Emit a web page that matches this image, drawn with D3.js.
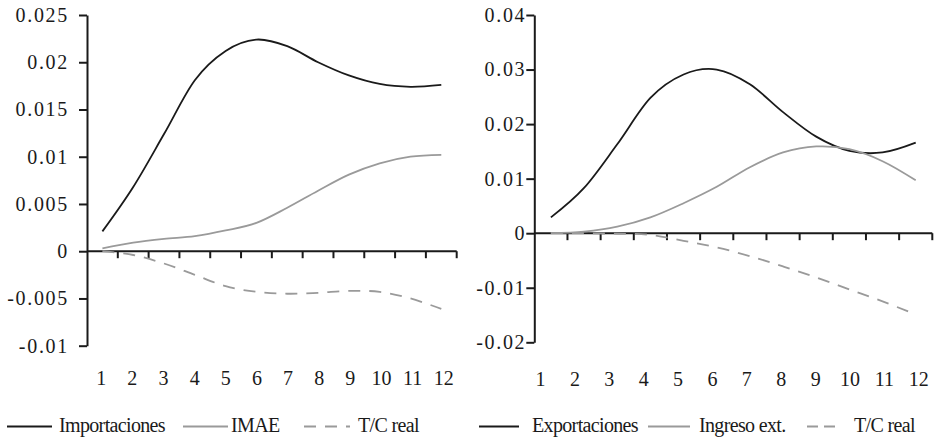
<!DOCTYPE html>
<html><head><meta charset="utf-8">
<script src="https://cdn.jsdelivr.net/npm/d3@7"></script>
<style>
html,body{margin:0;padding:0;background:#fff;}
svg{display:block;}
svg text{font-family:"Liberation Serif","Times New Roman",Times,"Tinos","DejaVu Serif","Noto Serif",serif !important;}
</style></head>
<body><svg id="c" width="934" height="440"></svg>
<script>
const periods = ["1","2","3","4","5","6","7","8","9","10","11","12"];

// Left panel
const importaciones = [0.0021,0.0068,0.0124,0.0181,0.0212,0.0224,0.0217,0.0200,0.0186,0.0177,0.0174,0.0176];
const imae          = [0.0003,0.0009,0.0013,0.0016,0.0022,0.0030,0.0046,0.0064,0.0081,0.0093,0.0100,0.0102];
const tcRealL       = [0.0000,-0.0004,-0.0013,-0.0025,-0.0037,-0.0043,-0.0045,-0.0044,-0.0042,-0.0043,-0.0050,-0.0061];
const leftTicks  = [-0.01,-0.005,0,0.005,0.01,0.015,0.02,0.025];
const leftTickLabels = ["-0.01","-0.005","0","0.005","0.01","0.015","0.02","0.025"];

// Right panel
const exportaciones = [0.0029,0.0083,0.0163,0.0248,0.0291,0.0300,0.0273,0.0222,0.0177,0.0151,0.0148,0.0166];
const ingresoExt    = [0.0000,0.0003,0.0012,0.0029,0.0055,0.0085,0.0121,0.0148,0.0159,0.0154,0.0132,0.0097];
const tcRealR       = [0.0000,0.0000,-0.0001,-0.0003,-0.0014,-0.0026,-0.0042,-0.0061,-0.0081,-0.0103,-0.0125,-0.0149];
const rightTicks = [-0.02,-0.01,0,0.01,0.02,0.03,0.04];
const rightTickLabels = ["-0.02","-0.01","0","0.01","0.02","0.03","0.04"];

const svg = d3.select("#c");
const BLACK = "#1a1a1a", GRAY = "#9a9a9a";

function panel(cfg){
  const g = svg.append("g");
  const x = d3.scaleBand().domain(periods).range([cfg.x0, cfg.x1]).padding(0);
  const y = d3.scaleLinear().domain([cfg.ticks[0], cfg.ticks[cfg.ticks.length-1]]).range([cfg.yBot, cfg.yTop]);
  const bw = x.bandwidth();
  const y0 = y(0);

  // y axis
  const ya = g.append("g").attr("transform", `translate(${cfg.x0},0)`)
    .call(d3.axisLeft(y).tickValues(cfg.ticks).tickSize(8).tickSizeOuter(0)
      .tickFormat((d,i)=>cfg.tickLabels[i]));
  ya.attr("font-family", null);
  ya.select(".domain").attr("stroke", BLACK).attr("stroke-width", 2);
  ya.selectAll(".tick line").attr("stroke", BLACK).attr("stroke-width", 2);
  ya.selectAll(".tick text").attr("x", -cfg.labelGap).attr("font-size", 20)
    .attr("fill", BLACK).attr("letter-spacing", 1.7);

  // x axis line at zero with ticks at band boundaries
  g.append("line").attr("x1", cfg.x0).attr("x2", cfg.x1).attr("y1", y0).attr("y2", y0)
    .attr("stroke", BLACK).attr("stroke-width", 2);
  g.selectAll(".xt").data(periods).enter().append("line")
    .attr("x1", d=>x(d)+bw).attr("x2", d=>x(d)+bw)
    .attr("y1", y0).attr("y2", y0+7).attr("stroke", BLACK).attr("stroke-width", 2);

  // x labels
  const xl = d3.scalePoint().domain(periods).range(cfg.labelRange);
  const xa = g.append("g").attr("transform", `translate(0,${cfg.labelY})`)
    .call(d3.axisBottom(xl).tickSize(0));
  xa.attr("font-family", null);
  xa.select(".domain").remove();
  xa.selectAll(".tick text").attr("y", 0).attr("dy", 0).attr("font-size", 20).attr("fill", BLACK);

  const line = d3.line().x((d,i)=>x(periods[i])+bw/2).y(d=>y(d)).curve(d3.curveCardinal.tension(0));
  cfg.series.forEach(s=>{
    g.append("path").attr("d", line(s.values)).attr("fill","none")
      .attr("stroke", s.color).attr("stroke-width", s.width)
      .attr("stroke-dasharray", s.dash || null);
  });

  // legend
  cfg.legend.forEach((l,i)=>{
    const s = cfg.series[i];
    g.append("line").attr("x1", l.lx0).attr("x2", l.lx1).attr("y1", 426.5).attr("y2", 426.5)
      .attr("stroke", s.color).attr("stroke-width", s.width).attr("stroke-dasharray", s.legendDash || null);
    g.append("text").attr("x", l.tx).attr("y", 432).attr("font-size", 20).attr("fill", BLACK)
      .attr("letter-spacing", -0.65).text(s.name);
  });
}

panel({
  x0: 87, x1: 456.7, yTop: 15, yBot: 345.7, ticks: leftTicks, tickLabels: leftTickLabels,
  labelGap: 18, labelRange: [100.7, 443.3], labelY: 385,
  series: [
    {name:"Importaciones", values: importaciones, color: BLACK, width: 1.8},
    {name:"IMAE", values: imae, color: GRAY, width: 1.8},
    {name:"T/C real", values: tcRealL, color: GRAY, width: 1.8, dash: "12,9", legendDash: "12,9"}
  ],
  legend: [ {lx0:7, lx1:52, tx:59}, {lx0:183, lx1:228, tx:231}, {lx0:304, lx1:350, tx:358} ]
});

panel({
  x0: 534.3, x1: 932.3, yTop: 15, yBot: 342.3, ticks: rightTicks, tickLabels: rightTickLabels,
  labelGap: 8, labelRange: [540, 918.3], labelY: 385.5,
  series: [
    {name:"Exportaciones", values: exportaciones, color: BLACK, width: 1.8},
    {name:"Ingreso ext.", values: ingresoExt, color: GRAY, width: 1.8},
    {name:"T/C real", values: tcRealR, color: GRAY, width: 1.8, dash: "12,9", legendDash: "11,6"}
  ],
  legend: [ {lx0:479, lx1:519, tx:532}, {lx0:648, lx1:690, tx:699}, {lx0:807, lx1:835, tx:854} ]
});
</script></body></html>
